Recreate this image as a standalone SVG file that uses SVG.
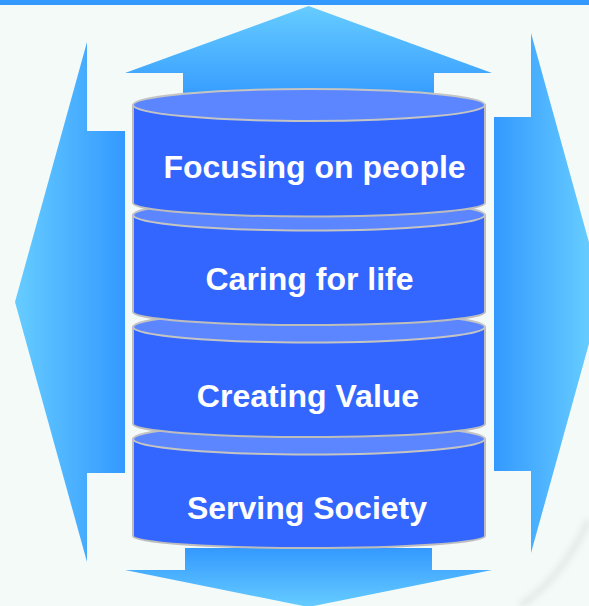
<svg xmlns="http://www.w3.org/2000/svg" width="589" height="606" viewBox="0 0 589 606">
  <defs>
    <linearGradient id="gUp" x1="0" y1="1" x2="0" y2="0">
      <stop offset="0" stop-color="#3399ff"/>
      <stop offset="1" stop-color="#66ccff"/>
    </linearGradient>
    <linearGradient id="gDown" x1="0" y1="0" x2="0" y2="1">
      <stop offset="0" stop-color="#3399ff"/>
      <stop offset="1" stop-color="#66ccff"/>
    </linearGradient>
    <linearGradient id="gLeft" gradientUnits="userSpaceOnUse" x1="125" y1="0" x2="15" y2="0">
      <stop offset="0" stop-color="#3399ff"/>
      <stop offset="1" stop-color="#66ccff"/>
    </linearGradient>
    <linearGradient id="gRight" gradientUnits="userSpaceOnUse" x1="494" y1="0" x2="589" y2="0">
      <stop offset="0" stop-color="#3399ff"/>
      <stop offset="1" stop-color="#66ccff"/>
    </linearGradient>
    <filter id="soft" x="-20%" y="-20%" width="140%" height="140%">
      <feGaussianBlur stdDeviation="3"/>
    </filter>
  </defs>
  <style>
    .body { fill: #3366ff; stroke: #bdbdbd; stroke-width: 2; }
    .lid { fill: #5b86ff; stroke: #c4c4c4; stroke-width: 2; }
    .label { font-family: "Liberation Sans", Arial, sans-serif; font-weight: bold; font-size: 32px; fill: #ffffff; text-anchor: middle; }
  </style>

  <!-- page background -->
  <rect x="0" y="0" width="589" height="606" fill="#f3faf7"/>
  <rect x="0" y="0" width="589" height="5" fill="#3399ff"/>
  <!-- faint page curl in the lower right corner -->
  <path d="M589,520 Q562,578 520,606" fill="none" stroke="#cdd3d0" stroke-width="6" opacity="0.45" filter="url(#soft)"/>

  <!-- four outward arrows -->
  <g id="arrows">
    <polygon id="arrow-up" fill="url(#gUp)" points="308.5,6 492,73 434,73 434,102 183,102 183,73 125,73"/>
    <polygon id="arrow-down" fill="url(#gDown)" points="185,548 432,548 432,570 492,570 308.5,607 125,570 185,570"/>
    <polygon id="arrow-left" fill="url(#gLeft)" points="15,302 87,42 87,131 125,131 125,473 87,473 87,562"/>
    <polygon id="arrow-right" fill="url(#gRight)" points="531,33 603,293 531,553 531,471 494,471 494,117 531,117"/>
  </g>

  <!-- stacked cylinders, drawn bottom first so each upper drum overlaps the lid below -->
  <g id="serving-society">
    <path class="body" d="M133,439 L133,536 A176,12 0 0 0 485,536 L485,439 Z"/>
    <ellipse class="lid" cx="309" cy="439" rx="176" ry="15.5"/>
    <text class="label" x="307" y="519">Serving Society</text>
  </g>
  <g id="creating-value">
    <path class="body" d="M133,327 L133,424 A176,13 0 0 0 485,424 L485,327 Z"/>
    <ellipse class="lid" cx="309" cy="327" rx="176" ry="15.5"/>
    <text class="label" x="308" y="407">Creating Value</text>
  </g>
  <g id="caring-for-life">
    <path class="body" d="M133,215 L133,312 A176,13 0 0 0 485,312 L485,215 Z"/>
    <ellipse class="lid" cx="309" cy="215" rx="176" ry="15.5"/>
    <text class="label" x="309.5" y="290">Caring for life</text>
  </g>
  <g id="focusing-on-people">
    <path class="body" d="M133,105 L133,203 A176,13.5 0 0 0 485,203 L485,105 Z"/>
    <ellipse class="lid" cx="309" cy="105" rx="176" ry="16"/>
    <text class="label" x="314.5" y="178">Focusing on people</text>
  </g>
</svg>
